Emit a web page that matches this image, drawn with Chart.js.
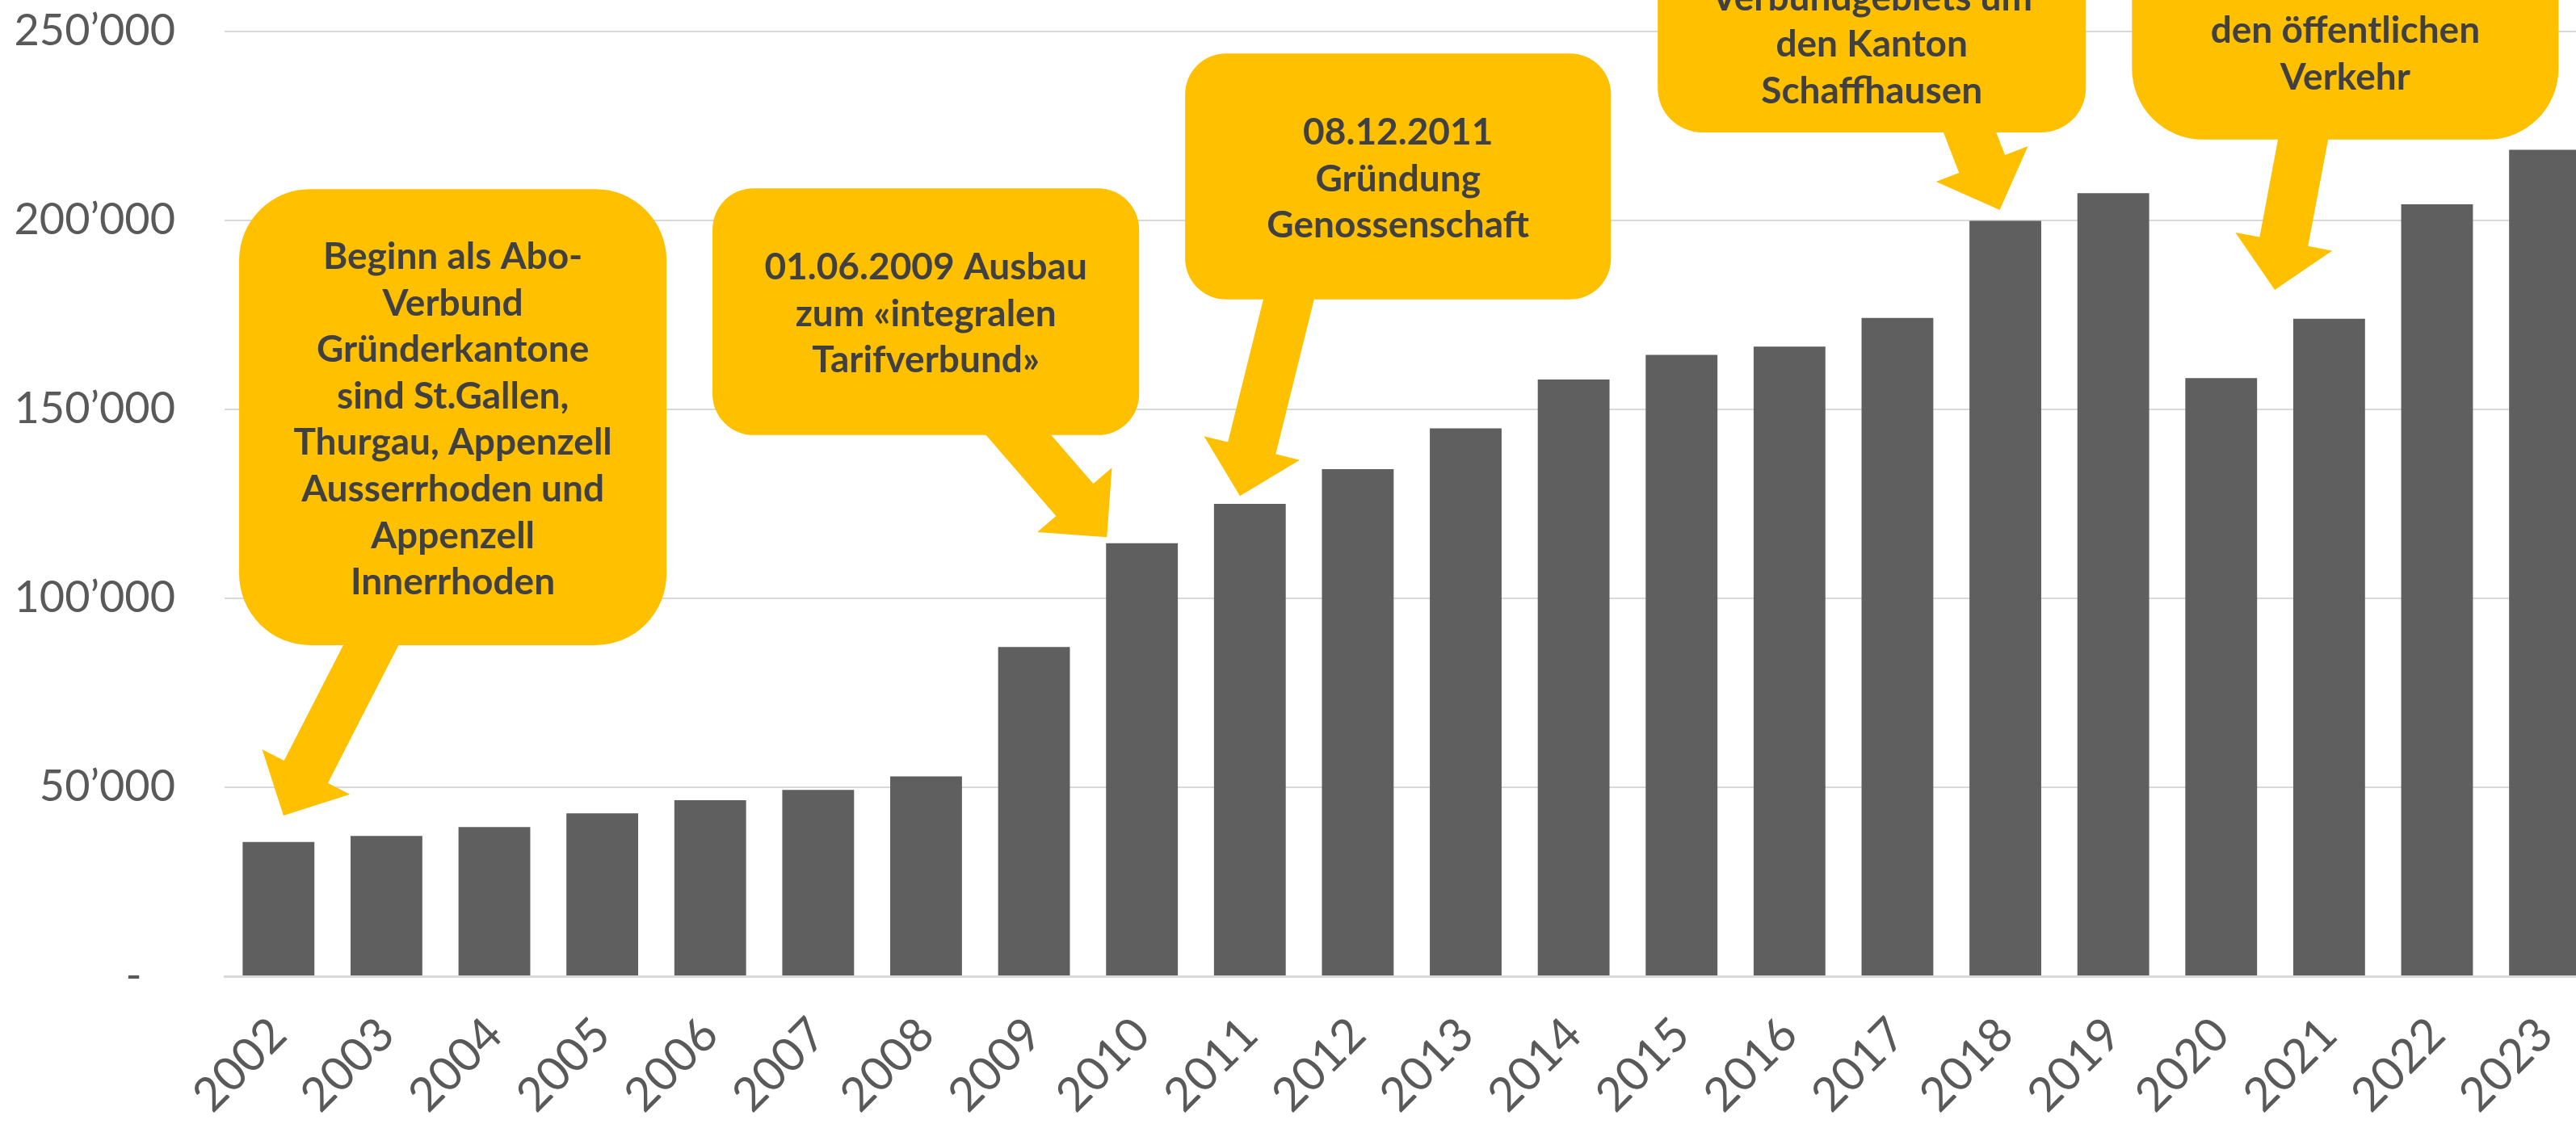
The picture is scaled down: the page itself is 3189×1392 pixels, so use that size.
<!DOCTYPE html>
<html lang="de">
<head>
<meta charset="UTF-8">
<title>Abo-Verbund</title>
<style>
  html, body { margin: 0; padding: 0; background: #fff; overflow: hidden; }
  canvas { display: block; width: 3230px; height: 1392px; }
</style>
<script src="https://cdn.jsdelivr.net/npm/chart.js"></script>
</head>
<body>
<canvas id="chart" width="3230" height="1392"></canvas>
<script>
// years and values
const years = ['2002', '2003', '2004', '2005', '2006', '2007', '2008', '2009', '2010', '2011', '2012',
               '2013', '2014', '2015', '2016', '2017', '2018', '2019', '2020', '2021', '2022', '2023'];
const values = [35500, 37100, 39500, 43100, 46600, 49300, 52900, 87100, 114600, 125000, 134200,
                145000, 157900, 164400, 166600, 174200, 199900, 207200, 158300, 174000, 204300, 218700];
const yTicks = [0, 50000, 100000, 150000, 200000, 250000];

// callout texts
const calloutTexts = [
    ['Beginn als Abo-', 'Verbund', 'Gründerkantone', 'sind St.Gallen,', 'Thurgau, Appenzell',
     'Ausserrhoden und', 'Appenzell', 'Innerrhoden'],
    ['01.06.2009 Ausbau', 'zum «integralen', 'Tarifverbund»'],
    ['08.12.2011', 'Gründung', 'Genossenschaft'],
    ['Verbundgebiets um', 'den Kanton', 'Schaffhausen'],
    ['den öffentlichen', 'Verkehr']
];

// callout anchors in chart coordinates (x = category index, y = value)
const calloutBoxes = [
    { x0: -0.365, x1: 3.595, top: 208300, bottom: 87600, base: 187200 },
    { x0: 4.021, x1: 7.974, top: 208500, bottom: 143200, base: 184400 },
    { x0: 8.400, x1: 12.346, top: 244200, bottom: 179100, base: 220100 },
    { x0: 12.779, x1: 16.746, top: 293800, bottom: 223300, base: 255600 },
    { x0: 17.173, x1: 21.126, top: 335200, bottom: 221400, base: 247000 }
];
const calloutArrows = [
    { from: [0.856, 87600], to: [0.046, 42500] },
    { from: [6.857, 143200], to: [7.675, 116200] },
    { from: [9.360, 179100], to: [8.908, 127100] },
    { from: [15.671, 223300], to: [15.948, 202800] },
    { from: [18.758, 221400], to: [18.496, 181600] }
];

const gold = '#FFC000';

function fmt(v) {
    if (v === 0) return '-   ';
    return String(v).replace(/\B(?=(\d{3})+(?!\d))/g, '\u2019');
}

const calloutPlugin = {
    id: 'callouts',
    afterDatasetsDraw(chart) {
        const ctx = chart.ctx;
        const xs = chart.scales.x, ys = chart.scales.y;
        ctx.save();
        ctx.fillStyle = gold;

        // arrows first, boxes cover the arrow tails
        calloutArrows.forEach(a => {
            const tx = xs.getPixelForValue(a.from[0]), ty = ys.getPixelForValue(a.from[1]);
            const hx = xs.getPixelForValue(a.to[0]), hy = ys.getPixelForValue(a.to[1]);
            const len = Math.hypot(hx - tx, hy - ty);
            const dx = (hx - tx) / len, dy = (hy - ty) / len;
            const nx = -dy, ny = dx;
            const sw = 30.5, hw = 61, hl = 61;
            const sx = tx - dx * 40, sy = ty - dy * 40;
            const kx = hx - dx * hl, ky = hy - dy * hl;
            ctx.beginPath();
            ctx.moveTo(sx + nx * sw, sy + ny * sw);
            ctx.lineTo(kx + nx * sw, ky + ny * sw);
            ctx.lineTo(kx + nx * hw, ky + ny * hw);
            ctx.lineTo(hx, hy);
            ctx.lineTo(kx - nx * hw, ky - ny * hw);
            ctx.lineTo(kx - nx * sw, ky - ny * sw);
            ctx.lineTo(sx - nx * sw, sy - ny * sw);
            ctx.closePath();
            ctx.fill();
        });

        calloutBoxes.forEach((b, i) => {
            const left = xs.getPixelForValue(b.x0), right = xs.getPixelForValue(b.x1);
            const top = ys.getPixelForValue(b.top), bottom = ys.getPixelForValue(b.bottom);
            const r = Math.min(right - left, bottom - top) / 6;
            ctx.fillStyle = gold;
            ctx.beginPath();
            ctx.roundRect(left, top, right - left, bottom - top, r);
            ctx.fill();

            ctx.fillStyle = '#404040';
            ctx.font = 'bold 46px Lato';
            ctx.textAlign = 'center';
            ctx.textBaseline = 'alphabetic';
            const cx = (left + right) / 2;
            let y = ys.getPixelForValue(b.base);
            calloutTexts[i].forEach(line => {
                ctx.fillText(line, cx, y);
                y += 57.6;
            });
        });
        ctx.restore();
    }
};

new Chart(document.getElementById('chart'), {
    type: 'bar',
    data: {
        labels: years,
        datasets: [{
            data: values,
            backgroundColor: '#5F5F5F',
            borderWidth: 0,
            categoryPercentage: 1.0,
            barPercentage: 0.665
        }]
    },
    options: {
        responsive: false,
        animation: false,
        devicePixelRatio: 1,
        layout: { padding: { top: 39, right: 8, left: 0, bottom: 0 } },
        plugins: {
            legend: { display: false },
            tooltip: { enabled: false }
        },
        scales: {
            x: {
                grid: { display: false },
                border: { display: true, color: '#D9D9D9', width: 3 },
                ticks: {
                    color: '#595959',
                    font: { family: 'Lato', size: 58 },
                    autoSkip: false,
                    maxRotation: 45,
                    minRotation: 45,
                    padding: 30
                },
                afterFit: s => { s.height = 183; }
            },
            y: {
                min: 0,
                max: 250000,
                afterBuildTicks: s => { s.ticks = yTicks.map(v => ({ value: v })); },
                grid: { color: '#D9D9D9', lineWidth: 2, drawTicks: true, tickLength: 61, tickColor: 'rgba(0,0,0,0)' },
                border: { display: false },
                ticks: {
                    color: '#595959',
                    font: { family: 'Lato', size: 54 },
                    padding: 0,
                    callback: v => fmt(v)
                },
                afterFit: s => { s.width = 278; }
            }
        }
    },
    plugins: [calloutPlugin]
});
</script>
</body>
</html>
